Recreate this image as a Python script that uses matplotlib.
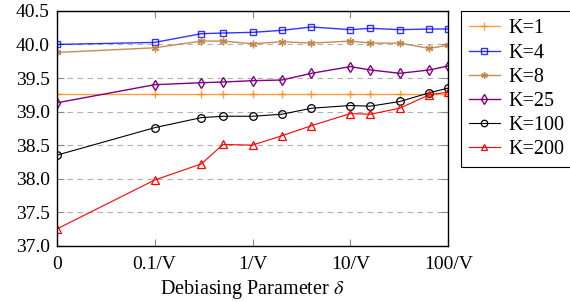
import numpy as np
import matplotlib
matplotlib.use('Agg')
import matplotlib.pyplot as plt

plt.rcParams['font.family'] = ['Liberation Serif', 'DejaVu Serif']
plt.rcParams['mathtext.fontset'] = 'stix'

# debiasing parameter delta (in units of 1/V)
delta = [0, 0.1, 0.3, 0.5, 1, 2, 4, 10, 16, 32, 64, 100]

k1   = [39.26]*12
k4   = [40.00, 40.03, 40.16, 40.17, 40.18, 40.21, 40.26, 40.22, 40.24, 40.22, 40.23, 40.23]
k8   = [39.88, 39.95, 40.05, 40.05, 40.01, 40.04, 40.02, 40.05, 40.02, 40.02, 39.94, 39.99]
k25  = [39.13, 39.40, 39.43, 39.44, 39.46, 39.47, 39.57, 39.67, 39.62, 39.57, 39.62, 39.68]
k100 = [38.35, 38.76, 38.91, 38.93, 38.93, 38.96, 39.05, 39.09, 39.08, 39.15, 39.28, 39.35]
k200 = [37.25, 37.98, 38.22, 38.51, 38.50, 38.64, 38.79, 38.97, 38.96, 39.05, 39.25, 39.29]

xtick_labels = ['0', '0.1/V', '1/V', '10/V', '100/V']

# 0 is drawn one decade left of 0.1/V
def xpos(d):
    d = np.asarray(d, dtype=float)
    out = np.zeros_like(d)
    nz = d > 0
    out[nz] = np.log10(d[nz]) + 2
    return out

x = xpos(delta)

fig = plt.figure(figsize=(5.7, 3.02), dpi=100)
ax = fig.add_axes([0.0995, 0.186, 0.687, 0.778])

ax.plot(x, k1, color=(1, 0.5, 0), marker='+', ms=6, lw=1, alpha=0.75, label='K=1')
ax.plot(x, k4, color='blue', marker='s', ms=5, mfc='none', mew=1, lw=1, alpha=0.8, label='K=4')
ax.plot(x, k8, color=(0.75, 0.5, 0.25), marker=(6, 2, 0), ms=5.5, lw=1, alpha=0.9, label='K=8')
ax.plot(x, k25, color=(0.5, 0, 0.5), marker='d', ms=5.5, mfc='none', mew=1, lw=1, label='K=25')
ax.plot(x, k100, color='black', marker='o', ms=5.5, mfc='none', mew=0.9, lw=0.8, label='K=100')
ax.plot(x, k200, color='red', marker='^', ms=5.5, mfc='none', mew=0.9, lw=0.8, label='K=200')

ax.set_xlim(0, 4)
ax.set_ylim(37.0, 40.5)
ax.set_xticks([0, 1, 2, 3, 4])
ax.set_xticklabels(xtick_labels)
ax.set_yticks(np.arange(37.0, 40.51, 0.5))
ax.set_yticklabels(['%.1f' % v for v in np.arange(37.0, 40.51, 0.5)])
ax.yaxis.grid(True, color='#b0b0b0', ls=(0, (5, 4)), lw=0.8)
ax.tick_params(direction='in', top=True, right=True, color='#888888', labelsize=14, length=5)
ax.tick_params(axis='x', pad=7)
ax.tick_params(axis='y', pad=5)
ax.set_xlabel(r'Debiasing Parameter $\delta$', fontsize=14.5, labelpad=4)
for s in ax.spines.values():
    s.set_linewidth(1.0)

leg = ax.legend(loc='upper left', bbox_to_anchor=(1.032, 0.998), fontsize=14.5,
                frameon=True, fancybox=False, edgecolor='black', framealpha=1,
                borderaxespad=0, handlelength=1.55, labelspacing=0.25, borderpad=0.4,
                handletextpad=0.4, markerscale=0.85)
leg.get_frame().set_linewidth(0.8)

plt.savefig('out.png', dpi=100)
